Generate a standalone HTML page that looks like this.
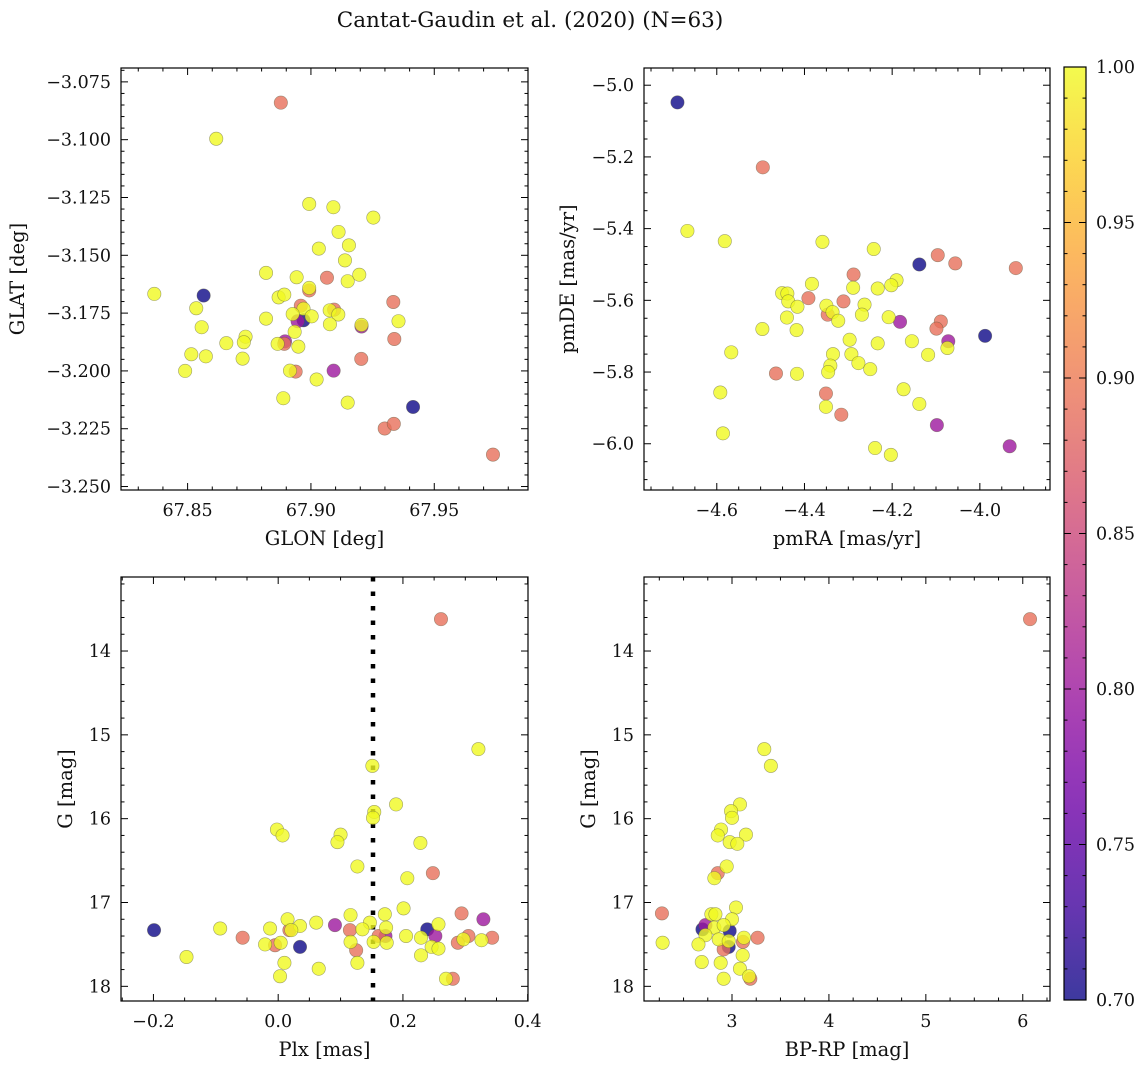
<!DOCTYPE html>
<html><head><meta charset="utf-8"><style>
body{margin:0;background:#fff;}
svg{display:block;font-family:"DejaVu Serif","Liberation Serif",serif;}
</style></head><body>
<svg id="fig" width="1148" height="1067" xmlns="http://www.w3.org/2000/svg">
<text x="530" y="27" font-size="21.5" text-anchor="middle" fill="#111">Cantat-Gaudin et al. (2020) (N=63)</text>
</svg>
<script>
// ---- data (membership probability colour) ----
const glon=[67.8878,67.8616,67.8993,67.9091,67.9253,67.9112,67.9032,67.9154,67.9138,67.8818,67.9065,67.8942,67.9149,67.9196,67.8365,67.8565,67.8993,67.8993,67.8869,67.8892,67.9334,67.8535,67.8959,67.8970,67.9094,67.9076,67.9111,67.8926,67.9003,67.8818,67.8946,67.8970,67.8934,67.9077,67.9205,67.9205,67.8557,67.9355,67.9338,67.8735,67.8728,67.8657,67.8895,67.8892,67.8865,67.8949,67.8515,67.8574,67.8723,67.9204,67.8490,67.8938,67.8915,67.9092,67.9023,67.8888,67.9149,67.9414,67.9299,67.9336,67.9738];
const glat=[-3.0840,-3.0996,-3.1278,-3.1292,-3.1337,-3.1399,-3.1471,-3.1457,-3.1522,-3.1576,-3.1597,-3.1595,-3.1612,-3.1584,-3.1667,-3.1674,-3.1652,-3.1641,-3.1682,-3.1670,-3.1702,-3.1729,-3.1718,-3.1731,-3.1735,-3.1738,-3.1756,-3.1754,-3.1764,-3.1774,-3.1785,-3.1781,-3.1831,-3.1798,-3.1808,-3.1801,-3.1811,-3.1785,-3.1862,-3.1852,-3.1876,-3.1880,-3.1872,-3.1883,-3.1883,-3.1895,-3.1928,-3.1937,-3.1947,-3.1948,-3.2000,-3.2003,-3.1999,-3.1999,-3.2037,-3.2118,-3.2137,-3.2156,-3.2249,-3.2229,-3.2362];
const probPos=[0.89,1,1,1,1,1,1,1,1,1,0.89,1,1,1,1,0.7,0.89,1,1,1,0.89,1,0.89,1,0.89,1,1,1,1,1,0.8,0.7,1,1,0.8,1,1,1,0.89,1,1,1,0.8,0.89,1,1,1,1,1,0.89,1,0.89,1,0.8,1,1,1,0.7,0.89,0.89,0.89];

const pmra=[-4.6897,-4.495,-4.667,-4.5817,-4.359,-4.242,-4.096,-4.056,-3.918,-4.138,-4.288,-4.19,-4.202,-4.233,-4.289,-4.383,-4.451,-4.439,-4.437,-4.391,-4.311,-4.416,-4.350,-4.347,-4.336,-4.323,-4.263,-4.269,-4.440,-4.208,-4.182,-4.089,-4.099,-4.496,-4.418,-3.988,-4.072,-4.074,-4.297,-4.233,-4.155,-4.118,-4.567,-4.335,-4.293,-4.277,-4.341,-4.346,-4.25,-4.465,-4.417,-4.174,-4.592,-4.351,-4.351,-4.138,-4.316,-4.098,-4.586,-3.932,-4.239,-4.203];
const pmde=[-5.048,-5.229,-5.4065,-5.435,-5.437,-5.457,-5.474,-5.497,-5.51,-5.500,-5.528,-5.544,-5.558,-5.567,-5.565,-5.554,-5.58,-5.581,-5.603,-5.594,-5.603,-5.618,-5.615,-5.64,-5.633,-5.657,-5.612,-5.64,-5.648,-5.647,-5.66,-5.659,-5.679,-5.68,-5.683,-5.699,-5.714,-5.733,-5.71,-5.72,-5.714,-5.752,-5.745,-5.75,-5.75,-5.775,-5.782,-5.8,-5.792,-5.804,-5.805,-5.848,-5.857,-5.86,-5.897,-5.889,-5.919,-5.948,-5.971,-6.007,-6.012,-6.031];
const probPm=[0.7,0.89,1,1,1,1,0.89,0.89,0.89,0.7,0.89,1,1,1,1,1,1,1,1,0.89,0.89,1,1,0.89,1,1,1,1,1,1,0.8,0.89,0.89,1,1,0.7,0.8,1,1,1,1,1,1,1,1,1,1,1,1,0.89,1,1,1,0.89,1,1,0.89,0.8,1,0.8,1,1];

const plx=[0.261,0.321,0.151,0.189,0.154,0.152,-0.002,0.007,0.100,0.095,0.228,0.127,0.248,0.207,0.201,0.294,0.116,0.171,0.015,0.329,0.061,0.091,0.147,0.035,0.257,0.239,-0.093,-0.199,-0.013,0.018,0.021,0.115,0.135,0.173,0.161,0.172,0.205,0.252,0.305,-0.057,0.343,0.229,0.297,0.326,0.288,0.116,0.153,0.174,0.004,-0.005,-0.021,0.035,0.246,0.257,0.125,-0.147,0.229,0.010,0.127,0.065,0.003,0.280,0.269];
const gPlx=[13.62,15.17,15.37,15.83,15.92,15.99,16.13,16.20,16.19,16.28,16.29,16.57,16.65,16.71,17.07,17.13,17.15,17.14,17.20,17.20,17.24,17.27,17.24,17.28,17.26,17.32,17.31,17.33,17.31,17.33,17.33,17.33,17.32,17.30,17.40,17.40,17.40,17.40,17.40,17.42,17.42,17.42,17.44,17.45,17.48,17.47,17.47,17.48,17.48,17.51,17.50,17.53,17.53,17.55,17.57,17.65,17.63,17.72,17.72,17.79,17.88,17.91,17.91];
const probPlx=[0.89,1,1,1,1,1,1,1,1,1,1,1,0.89,1,1,0.89,1,1,1,0.8,1,0.8,1,1,1,0.7,1,0.7,1,0.89,1,0.89,1,1,0.89,0.8,1,0.8,0.89,0.89,0.89,1,1,1,0.89,1,1,1,1,0.89,1,0.7,1,1,0.89,1,1,1,1,1,1,0.89,1];

const bprp=[6.075,3.333,3.401,3.082,2.990,3.0,2.887,2.853,3.144,2.976,3.055,2.945,2.853,2.818,2.277,3.041,2.787,2.829,3.0,2.726,2.695,2.818,2.914,2.976,2.726,3.264,3.123,3.113,2.863,2.966,2.966,2.914,2.654,2.284,3.11,2.688,2.883,3.082,2.914,3.189,3.175];
const gCmd=[13.62,15.17,15.37,15.83,15.91,15.99,16.13,16.20,16.19,16.28,16.30,16.57,16.65,16.71,17.13,17.06,17.14,17.14,17.20,17.27,17.32,17.30,17.27,17.34,17.39,17.42,17.42,17.47,17.44,17.46,17.53,17.56,17.50,17.48,17.63,17.71,17.72,17.79,17.91,17.91,17.88];
const probCmd=[0.89,1,1,1,1,1,1,1,1,1,1,1,0.89,1,0.89,1,1,1,1,0.8,0.7,1,1,0.7,1,0.89,1,0.89,1,1,0.7,0.89,1,1,1,1,1,1,1,0.89,1];

const cbTicks=[0.70,0.75,0.80,0.85,0.90,0.95,1.00];

// ---- helpers ----
const NS='http://www.w3.org/2000/svg';
const svg=document.getElementById('fig');
const TF=17.5, LF=19.5;
function mk(tag,attrs,parent){const e=document.createElementNS(NS,tag);for(const k in attrs)e.setAttribute(k,attrs[k]);(parent||svg).appendChild(e);return e;}
const plasma=['#0d0887','#47039f','#7301a8','#9c179e','#bd3786','#d8576b','#ed7953','#fa9e3b','#fdc926','#f0f921'];
function hex(h){return [1,3,5].map(i=>parseInt(h.substr(i,2),16));}
function cmap(t){t=Math.max(0,Math.min(1,t));const s=t*9,i=Math.min(8,Math.floor(s)),f=s-i;const a=hex(plasma[i]),b=hex(plasma[i+1]);return 'rgb('+a.map((v,k)=>Math.round(v+(b[k]-v)*f)).join(',')+')';}
function pcol(p){return cmap((p-0.7)/0.3);}
function fmt(v,d){const s=Math.abs(v).toFixed(d);return (v<0?'\u2212':'')+s;}

function panel(o){
  const g=mk('g',{});
  
  
  const sx=v=>o.L+(v-o.x0)/(o.x1-o.x0)*o.W;
  const sy=v=>o.T+(v-o.y0)/(o.y1-o.y0)*o.H;
  if(o.vline!==undefined){const l=mk('line',{x1:sx(o.vline),x2:sx(o.vline),y1:o.T,y2:o.T+o.H,stroke:'#000','stroke-width':4.5,'stroke-dasharray':'4.5 10'},g);
    }
  const idx=o.xs.map((_,i)=>i).sort((a,b)=>o.ps[a]-o.ps[b]);
  for(const i of idx){
    const c=mk('circle',{cx:sx(o.xs[i]),cy:sy(o.ys[i]),r:6.7,fill:pcol(o.ps[i]),'fill-opacity':0.8,stroke:'rgba(90,90,60,0.55)','stroke-width':0.6},g);
    
    
  }
  mk('rect',{x:o.L,y:o.T,width:o.W,height:o.H,fill:'none',stroke:'#000','stroke-width':1.2},g);
  const eps=1e-9;
  for(let v=Math.ceil(o.x0/o.xmin-eps)*o.xmin;v<=o.x1+eps;v+=o.xmin){
    const X=sx(v);const major=Math.abs(v/o.xmaj-Math.round(v/o.xmaj))<1e-4;const len=major?7:3.5;
    mk('line',{x1:X,x2:X,y1:o.T+o.H,y2:o.T+o.H-len,stroke:'#000','stroke-width':1},g);
    mk('line',{x1:X,x2:X,y1:o.T,y2:o.T+len,stroke:'#000','stroke-width':1},g);
    if(major&&X>o.L-2&&X<o.L+o.W+2){const t=mk('text',{x:X,y:o.T+o.H+26,'font-size':TF,'text-anchor':'middle',fill:'#111'},g);t.textContent=fmt(Math.round(v/o.xmaj)*o.xmaj,o.xd);
      }
  }
  for(let v=Math.ceil(Math.min(o.y0,o.y1)/o.ymin-eps)*o.ymin;v<=Math.max(o.y0,o.y1)+eps;v+=o.ymin){
    const Y=sy(v);const major=Math.abs(v/o.ymaj-Math.round(v/o.ymaj))<1e-4;const len=major?7:3.5;
    mk('line',{x1:o.L,x2:o.L+len,y1:Y,y2:Y,stroke:'#000','stroke-width':1},g);
    mk('line',{x1:o.L+o.W,x2:o.L+o.W-len,y1:Y,y2:Y,stroke:'#000','stroke-width':1},g);
    if(major){const t=mk('text',{x:o.L-10,y:Y+6,'font-size':TF,'text-anchor':'end',fill:'#111'},g);t.textContent=fmt(Math.round(v/o.ymaj)*o.ymaj,o.yd);
      }
  }
  const xl=mk('text',{x:o.L+o.W/2,y:o.T+o.H+55,'font-size':LF,'text-anchor':'middle',fill:'#111'},g);xl.textContent=o.xlab;
  
  const yl=mk('text',{x:o.ylx,y:o.T+o.H/2,'font-size':LF,'text-anchor':'middle',fill:'#111',transform:'rotate(-90 '+o.ylx+' '+(o.T+o.H/2)+')'},g);yl.textContent=o.ylab;
  
}

panel({name:'glon-glat-panel',L:121,T:68,W:407,H:422,x0:67.823,x1:67.988,y0:-3.069,y1:-3.2515,xmaj:0.05,xmin:0.01,ymaj:0.025,ymin:0.005,xd:2,yd:3,xs:glon,ys:glat,ps:probPos,xlab:'GLON [deg]',ylab:'GLAT [deg]',ylx:24});
panel({name:'proper-motion-panel',L:644,T:68,W:406,H:422,x0:-4.766,x1:-3.840,y0:-4.952,y1:-6.129,xmaj:0.2,xmin:0.05,ymaj:0.2,ymin:0.05,xd:1,yd:1,xs:pmra,ys:pmde,ps:probPm,xlab:'pmRA [mas/yr]',ylab:'pmDE [mas/yr]',ylx:574});
panel({name:'parallax-mag-panel',L:121,T:577,W:407,H:424,x0:-0.252,x1:0.4005,y0:13.117,y1:18.175,xmaj:0.2,xmin:0.05,ymaj:1,ymin:0.2,xd:1,yd:0,xs:plx,ys:gPlx,ps:probPlx,xlab:'Plx [mas]',ylab:'G [mag]',ylx:72,vline:0.152});
panel({name:'cmd-panel',L:644,T:577,W:406,H:424,x0:2.092,x1:6.281,y0:13.117,y1:18.175,xmaj:1,xmin:0.25,ymaj:1,ymin:0.2,xd:0,yd:0,xs:bprp,ys:gCmd,ps:probCmd,xlab:'BP-RP [mag]',ylab:'G [mag]',ylx:595});

// ---- colorbar ----
const cb=mk('g',{});


const defs=mk('defs',{},cb);
const lg=mk('linearGradient',{id:'cbg',x1:0,y1:1,x2:0,y2:0},defs);
for(let i=0;i<=20;i++){mk('stop',{offset:i/20,'stop-color':cmap(i/20)},lg);}
const cbL=1064,cbT=67,cbW=22,cbH=933;
mk('rect',{x:cbL,y:cbT,width:cbW,height:cbH,fill:'url(#cbg)','fill-opacity':0.8},cb);
mk('rect',{x:cbL,y:cbT,width:cbW,height:cbH,fill:'none',stroke:'#000','stroke-width':1.2},cb);
const cy=v=>cbT+(1-(v-0.7)/0.3)*cbH;
for(let k=0;k<=30;k++){const v=0.7+k*0.01;const Y=cy(v);const major=k%5===0;
  mk('line',{x1:cbL+cbW,x2:cbL+cbW-(major?7:3.5),y1:Y,y2:Y,stroke:'#000','stroke-width':1},cb);
  mk('line',{x1:cbL,x2:cbL+(major?7:3.5),y1:Y,y2:Y,stroke:'#000','stroke-width':1},cb);}
for(const v of cbTicks){const t=mk('text',{x:cbL+cbW+10,y:cy(v)+6,'font-size':TF,fill:'#111'},cb);t.textContent=v.toFixed(2);
  }
</script>
</body></html>
